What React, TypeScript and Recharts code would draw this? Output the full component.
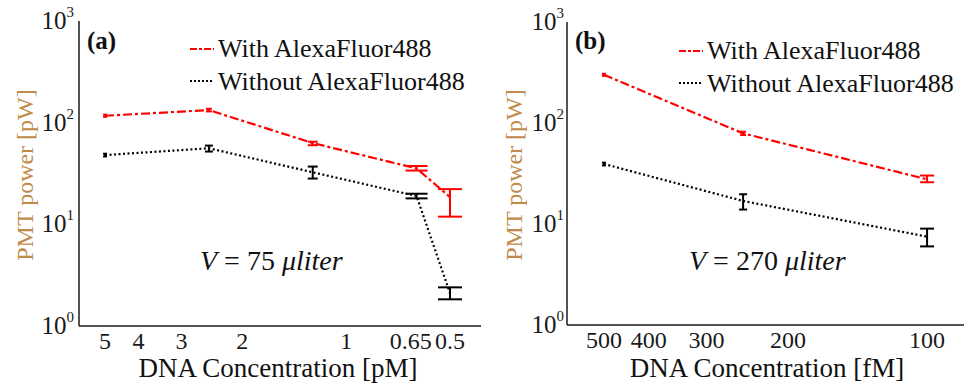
import React from 'react';
import { LineChart, Line, XAxis, YAxis, ErrorBar } from 'recharts';

// panel (a): concentration in pM
const concA = [5, 2.5, 1.25, 0.625, 0.5];
const withA = [117, 133, 63, 35.5, 18.5];
const withLoA = [114, 129, 60, 33.8, 11.9];
const withHiA = [120, 137, 65, 37.5, 22.2];
const withoutA = [48, 56, 32.5, 19, 2.1];
const withoutLoA = [46.5, 52, 28.2, 18, 1.83];
const withoutHiA = [49.5, 59.5, 37, 20, 2.4];

// panel (b): concentration in fM
const concB = [500, 250, 100];
const withB = [300, 79, 27.7];
const withLoB = [293, 76, 25.9];
const withHiB = [307, 82, 30.2];
const withoutB = [39.3, 16.9, 7.5];
const withoutLoB = [38, 13.9, 6.0];
const withoutHiB = [40.5, 19.7, 9.0];

const ticksA = [5, 4, 3, 2, 1, 0.65, 0.5];
const ticksB = [500, 400, 300, 200, 100];
const yTicks = [1, 10, 100, 1000];
const yMinor = [2, 3, 4, 5, 6, 7, 8, 9, 20, 30, 40, 50, 60, 70, 80, 90, 200, 300, 400, 500, 600, 700, 800, 900];

const RED = '#ff0000';
const INK = '#1a1a1a';
const LABEL = '#c08a4a';
const FONT = 'Liberation Serif, Times New Roman, DejaVu Serif, serif';

const buildRows = (conc: number[], w: number[], wLo: number[], wHi: number[], b: number[], bLo: number[], bHi: number[]) =>
  conc.map((x, i) => ({
    i,
    x,
    w: w[i],
    wErr: [w[i] - wLo[i], wHi[i] - w[i]],
    b: b[i],
    bErr: [b[i] - bLo[i], bHi[i] - b[i]],
  }));

const rowsA = buildRows(concA, withA, withLoA, withHiA, withoutA, withoutLoA, withoutHiA);
const rowsB = buildRows(concB, withB, withLoB, withHiB, withoutB, withoutLoB, withoutHiB);

const YTick = (props: any) => {
  const { x, y, payload } = props;
  const exp = Math.round(Math.log10(payload.value));
  return (
    <text x={x} y={y + 8} textAnchor="end" fill={INK} style={{ fontFamily: FONT }} fontSize={25}>
      <tspan>10</tspan>
      <tspan dy={-12} fontSize={15}>{exp}</tspan>
    </text>
  );
};

const XTick = (props: any) => {
  const { x, y, payload } = props;
  return (
    <text x={x} y={y + 23} textAnchor="middle" fill={INK} style={{ fontFamily: FONT }} fontSize={24}>
      {String(payload.value)}
    </text>
  );
};

interface PanelProps {
  rows: any[];
  xDomain: number[];
  xTicks: number[];
  width: number;
  margin: { top: number; right: number; bottom: number; left: number };
  yWidth: number;
  xHeight: number;
  yLabelGap: number;
  capsW: number[];
  capsB: number[];
}

const Panel: React.FC<PanelProps> = ({ rows, xDomain, xTicks, width, margin, yWidth, xHeight, yLabelGap, capsW, capsB }) => {
  const axisStroke = { stroke: INK, strokeWidth: 1.5 };
  return (
    <LineChart width={width} height={386} data={rows} margin={margin}>
      <XAxis dataKey="x" type="number" scale="log" domain={xDomain} allowDataOverflow reversed ticks={xTicks}
        height={xHeight} tickLine={false} tickSize={0} tickMargin={0} axisLine={axisStroke} tick={<XTick />} />
      <XAxis xAxisId="botIn" dataKey="x" type="number" scale="log" domain={xDomain} allowDataOverflow reversed ticks={xTicks}
        orientation="bottom" mirror height={0} tick={false} axisLine={false} tickSize={8} tickLine={axisStroke} />
      <XAxis xAxisId="top" dataKey="x" type="number" scale="log" domain={xDomain} allowDataOverflow reversed ticks={xTicks}
        orientation="top" mirror height={0} tick={false} axisLine={axisStroke} tickSize={8} tickLine={axisStroke} />
      <YAxis type="number" scale="log" domain={[1, 1000]} allowDataOverflow ticks={yTicks} width={yWidth}
        tickLine={false} tickSize={0} tickMargin={yLabelGap} axisLine={axisStroke} tick={<YTick />} />
      <YAxis yAxisId="lIn" type="number" scale="log" domain={[1, 1000]} allowDataOverflow ticks={yTicks}
        orientation="left" mirror width={0} tick={false} axisLine={false} tickSize={8} tickLine={axisStroke} />
      <YAxis yAxisId="lMin" type="number" scale="log" domain={[1, 1000]} allowDataOverflow ticks={yMinor}
        orientation="left" mirror width={0} tick={false} axisLine={false} tickSize={4} tickLine={axisStroke} />
      <YAxis yAxisId="rIn" type="number" scale="log" domain={[1, 1000]} allowDataOverflow ticks={yTicks}
        orientation="right" mirror width={0} tick={false} axisLine={axisStroke} tickSize={8} tickLine={axisStroke} />
      <YAxis yAxisId="rMin" type="number" scale="log" domain={[1, 1000]} allowDataOverflow ticks={yMinor}
        orientation="right" mirror width={0} tick={false} axisLine={false} tickSize={4} tickLine={axisStroke} />
      <Line type="linear" dataKey="w" stroke={RED} strokeWidth={2.2} strokeDasharray="9 3 3 3" dot={false} isAnimationActive={false}>
        {capsW.map((cw, k) => (
          <ErrorBar key={k} direction="y" dataKey={(d: any) => (d.i === k ? d.wErr : null)} width={cw}
            stroke={RED} strokeWidth={2} isAnimationActive={false} />
        ))}
      </Line>
      <Line type="linear" dataKey="b" stroke="#000" strokeWidth={2.2} strokeDasharray="2 2.5" dot={false} isAnimationActive={false}>
        {capsB.map((cw, k) => (
          <ErrorBar key={k} direction="y" dataKey={(d: any) => (d.i === k ? d.bErr : null)} width={cw}
            stroke="#000" strokeWidth={2} isAnimationActive={false} />
        ))}
      </Line>
    </LineChart>
  );
};

interface OverlayProps {
  tag: string;
  tagX: number;
  legX: number;
  legY: number;
  vX: number;
  vText: string;
  titleX: number;
  unit: string;
  yLabelX: number;
}

const Overlay: React.FC<OverlayProps> = ({ tag, tagX, legX, legY, vX, vText, titleX, unit, yLabelX }) => (
  <svg width={483} height={386} style={{ position: 'absolute', left: 0, top: 0, pointerEvents: 'none', fontFamily: FONT }}>
    <text x={tagX} y={49} fontSize={25} fontWeight="bold" fill="#111">{tag}</text>
    <line x1={legX} x2={legX + 24} y1={legY} y2={legY} stroke={RED} strokeWidth={2.2} strokeDasharray="7 2 3 2" />
    <text x={legX + 28} y={legY + 8} fontSize={26} fill="#111">With AlexaFluor488</text>
    <line x1={legX} x2={legX + 24} y1={legY + 32} y2={legY + 32} stroke="#000" strokeWidth={2.2} strokeDasharray="2 2" />
    <text x={legX + 28} y={legY + 41} fontSize={26} fill="#111">Without AlexaFluor488</text>
    <text x={vX} y={270} fontSize={28} fill="#111">
      <tspan fontStyle="italic">V</tspan>
      <tspan> = {vText} </tspan>
      <tspan fontStyle="italic">μliter</tspan>
    </text>
    <text x={titleX} y={377} fontSize={27} textAnchor="middle" fill="#111">{`DNA Concentration [${unit}]`}</text>
    <text transform={`translate(${yLabelX},175) rotate(-90)`} fontSize={24} textAnchor="middle" fill={LABEL}>PMT power [pW]</text>
  </svg>
);

export default function App() {
  return (
    <div style={{ position: 'absolute', left: 0, top: 0, width: 965, height: 386, background: '#fff' }}>
      <div style={{ position: 'absolute', left: 0, top: 0, width: 483, height: 386 }}>
        <Panel rows={rowsA} xDomain={[0.4065, 5.95]} xTicks={ticksA} width={483}
          margin={{ top: 21, right: 2, bottom: 0, left: 0 }} yWidth={79} xHeight={60} yLabelGap={5}
          capsW={[2, 3, 5, 11, 12]} capsB={[2, 4, 5, 11, 12]} />
        <Overlay tag="(a)" tagX={87} legX={190} legY={49} vX={200} vText="75" titleX={278} unit="pM" yLabelX={33} />
      </div>
      <div style={{ position: 'absolute', left: 482, top: 0, width: 483, height: 386 }}>
        <Panel rows={rowsB} xDomain={[83.2, 601]} xTicks={ticksB} width={483}
          margin={{ top: 22, right: 1, bottom: 0, left: 0 }} yWidth={85} xHeight={61} yLabelGap={3}
          capsW={[2, 3, 7]} capsB={[2, 4, 7]} />
        <Overlay tag="(b)" tagX={93} legX={197} legY={51} vX={207} vText="270 " titleX={285} unit="fM" yLabelX={40} />
      </div>
    </div>
  );
}
